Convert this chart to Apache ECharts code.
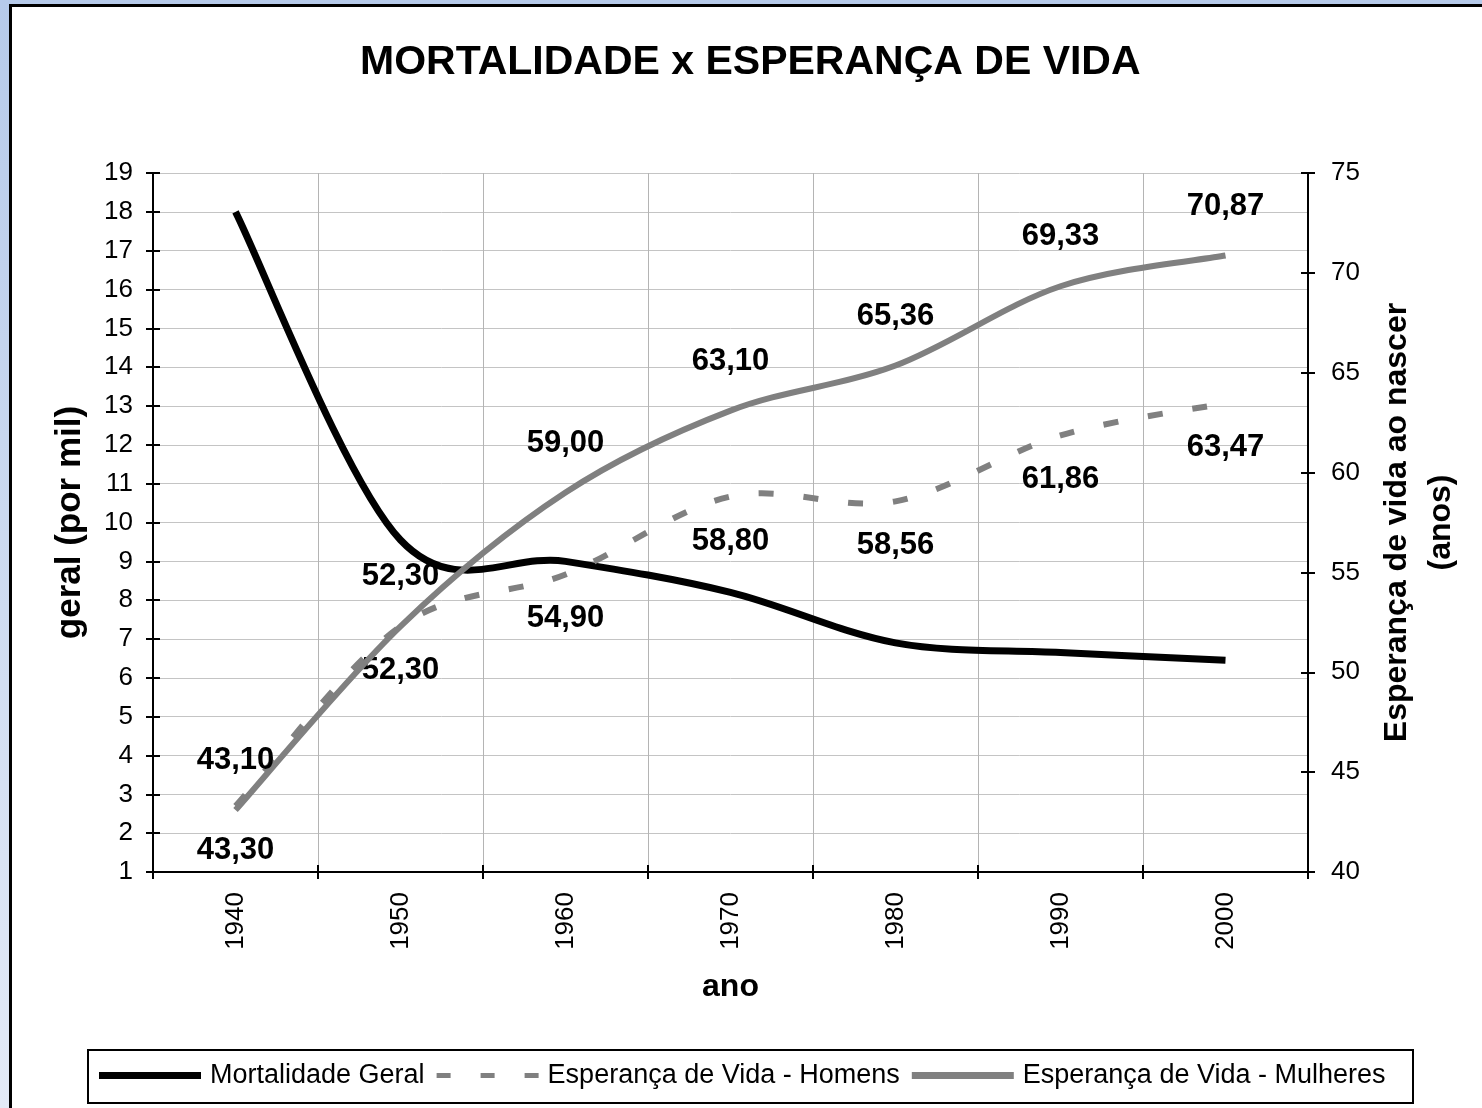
<!DOCTYPE html>
<html>
<head>
<meta charset="utf-8">
<script src="https://cdn.jsdelivr.net/npm/echarts@6/dist/echarts.min.js"></script>
<style>
html,body{margin:0;padding:0;width:1482px;height:1108px;overflow:hidden;background:linear-gradient(180deg,#b6caea 0%,#cfdcf1 55%,#e3eaf7 100%);}
#frame{position:absolute;left:9px;top:4px;width:1500px;height:1200px;background:#fff;border:3px solid #000;box-sizing:border-box;}
#chart{position:absolute;left:0;top:0;width:1482px;height:1108px;}
</style>
</head>
<body>
<div id="frame"></div>
<div id="chart"></div>
<script>
// ---- data ----
const years = ['1940', '1950', '1960', '1970', '1980', '1990', '2000'];
const mortalidade = [18.0, 9.55, 9.0, 8.2, 6.9, 6.65, 6.45];
const homens = [43.30, 52.30, 54.90, 58.80, 58.56, 61.86, 63.47];
const mulheres = [43.10, 52.30, 59.00, 63.10, 65.36, 69.33, 70.87];
const leftTicks = [1, 2, 3, 4, 5, 6, 7, 8, 9, 10, 11, 12, 13, 14, 15, 16, 17, 18, 19];
const rightTicks = [40, 45, 50, 55, 60, 65, 70, 75];
const seriesNames = ['Mortalidade Geral', 'Esperança de Vida - Homens', 'Esperança de Vida - Mulheres'];

const FONT = '"Liberation Sans", Arial, Helvetica, sans-serif';

function fmt(v) { return v.toFixed(2).replace('.', ','); }

// Excel-like smoothed line (Catmull-Rom as cubic Bezier), drawn through the axes' scales
function makeRender(values, color, width, dash, labelMode) {
  return function (params, api) {
    const i = params.dataIndex;
    const children = [];
    if (i === 0) {
      const pts = values.map((v, k) => api.coord([k, v]));
      let d = 'M' + pts[0][0] + ' ' + pts[0][1];
      for (let k = 0; k < pts.length - 1; k++) {
        const p0 = pts[Math.max(k - 1, 0)], p1 = pts[k], p2 = pts[k + 1], p3 = pts[Math.min(k + 2, pts.length - 1)];
        const c1x = p1[0] + (p2[0] - p0[0]) / 6, c1y = p1[1] + (p2[1] - p0[1]) / 6;
        const c2x = p2[0] - (p3[0] - p1[0]) / 6, c2y = p2[1] - (p3[1] - p1[1]) / 6;
        d += ' C' + c1x + ' ' + c1y + ' ' + c2x + ' ' + c2y + ' ' + p2[0] + ' ' + p2[1];
      }
      children.push({
        type: 'path',
        shape: { pathData: d },
        style: { fill: 'none', stroke: color, lineWidth: width, lineDash: dash, lineJoin: 'round', lineCap: 'butt' }
      });
    }
    if (labelMode) {
      const p = api.coord([i, values[i]]);
      children.push({
        type: 'text',
        x: p[0],
        y: labelMode === 'top' ? p[1] - 34 : p[1] + 29,
        style: {
          text: fmt(values[i]),
          align: 'center',
          verticalAlign: labelMode === 'top' ? 'bottom' : 'top',
          font: 'bold 31px ' + FONT,
          fill: '#000'
        }
      });
    }
    return { type: 'group', children: children };
  };
}

const axisLineStyle = { color: '#000', width: 2 };

const option = {
  animation: false,
  title: {
    text: 'MORTALIDADE x ESPERANÇA DE VIDA',
    left: 360, top: 42, padding: 0,
    textStyle: { fontSize: 41, fontWeight: 'bold', fontFamily: FONT, color: '#000' }
  },
  legend: {
    left: 99, top: 1062, padding: 0,
    itemWidth: 102, itemHeight: 7, itemGap: 12,
    selectedMode: false,
    textStyle: { fontSize: 27, fontFamily: FONT, color: '#000', padding: [0, 0, 0, 4] },
    data: [
      { name: seriesNames[0], icon: 'rect' },
      { name: seriesNames[1], icon: 'path://M0,0h14v5h-14z M44,0h14v5h-14z M88,0h14v5h-14z' },
      { name: seriesNames[2], icon: 'rect' }
    ]
  },
  graphic: [
    { type: 'rect', shape: { x: 88, y: 1050, width: 1325, height: 53 }, style: { fill: 'none', stroke: '#000', lineWidth: 2 }, z: 1, silent: true }
  ],
  grid: { left: 153, right: 174, top: 173, bottom: 236, containLabel: false },
  xAxis: [
    {
      type: 'category', data: years, boundaryGap: true, position: 'bottom',
      axisLine: { show: true, lineStyle: axisLineStyle },
      axisTick: { show: true, length: 7, interval: 0, lineStyle: axisLineStyle },
      axisLabel: { interval: 0, rotate: 90, fontSize: 26, color: '#000', margin: 20, fontFamily: FONT },
      splitLine: { show: true, interval: 0, lineStyle: { color: '#b4b4b4', width: 1 } },
      name: 'ano', nameLocation: 'middle', nameGap: 99,
      nameTextStyle: { fontSize: 32, fontWeight: 'bold', color: '#000', fontFamily: FONT }
    },
    {
      type: 'category', data: years, boundaryGap: true, position: 'bottom',
      axisLine: { show: false },
      axisTick: { show: true, inside: true, length: 7, interval: 0, lineStyle: axisLineStyle },
      axisLabel: { show: false }, splitLine: { show: false }
    }
  ],
  yAxis: [
    {
      type: 'value', position: 'left', min: leftTicks[0], max: leftTicks[leftTicks.length - 1], interval: 1,
      axisLine: { show: true, lineStyle: axisLineStyle },
      axisTick: { show: true, length: 7, lineStyle: axisLineStyle },
      axisLabel: { fontSize: 26, color: '#000', margin: 20, fontFamily: FONT },
      splitLine: { show: true, lineStyle: { color: '#c4c4c4', width: 1 } },
      name: 'geral (por mil)', nameLocation: 'middle', nameGap: 65,
      nameTextStyle: { fontSize: 35, fontWeight: 'bold', color: '#000', fontFamily: FONT }
    },
    {
      type: 'value', position: 'right', min: rightTicks[0], max: rightTicks[rightTicks.length - 1], interval: 5,
      axisLine: { show: true, lineStyle: axisLineStyle },
      axisTick: { show: true, length: 7, lineStyle: axisLineStyle },
      axisLabel: { fontSize: 26, color: '#000', margin: 23, fontFamily: FONT },
      splitLine: { show: false },
      name: 'Esperança de vida ao nascer\n(anos)', nameLocation: 'middle', nameGap: 67,
      nameTextStyle: { fontSize: 32, fontWeight: 'bold', color: '#000', fontFamily: FONT, lineHeight: 44 }
    },
    {
      type: 'value', position: 'left', min: leftTicks[0], max: leftTicks[leftTicks.length - 1], interval: 1,
      axisLine: { show: false },
      axisTick: { show: true, inside: true, length: 7, lineStyle: axisLineStyle },
      axisLabel: { show: false }, splitLine: { show: false }
    },
    {
      type: 'value', position: 'right', min: rightTicks[0], max: rightTicks[rightTicks.length - 1], interval: 5,
      axisLine: { show: false },
      axisTick: { show: true, inside: true, length: 7, lineStyle: axisLineStyle },
      axisLabel: { show: false }, splitLine: { show: false }
    }
  ],
  series: [
    {
      name: seriesNames[0], type: 'custom', xAxisIndex: 0, yAxisIndex: 0, silent: true, clip: false,
      itemStyle: { color: '#000' },
      encode: { x: 0, y: 1 },
      data: mortalidade.map((v, i) => [i, v]),
      renderItem: makeRender(mortalidade, '#000', 7, null, null)
    },
    {
      name: seriesNames[1], type: 'custom', xAxisIndex: 0, yAxisIndex: 1, silent: true, clip: false,
      itemStyle: { color: '#808080' },
      encode: { x: 0, y: 1 },
      data: homens.map((v, i) => [i, v]),
      renderItem: makeRender(homens, '#808080', 6, [15, 30], 'bottom')
    },
    {
      name: seriesNames[2], type: 'custom', xAxisIndex: 0, yAxisIndex: 1, silent: true, clip: false,
      itemStyle: { color: '#808080' },
      encode: { x: 0, y: 1 },
      data: mulheres.map((v, i) => [i, v]),
      renderItem: makeRender(mulheres, '#808080', 6, null, 'top')
    }
  ]
};

const chart = echarts.init(document.getElementById('chart'), null, { renderer: 'canvas' });
chart.setOption(option);
</script>
</body>
</html>
